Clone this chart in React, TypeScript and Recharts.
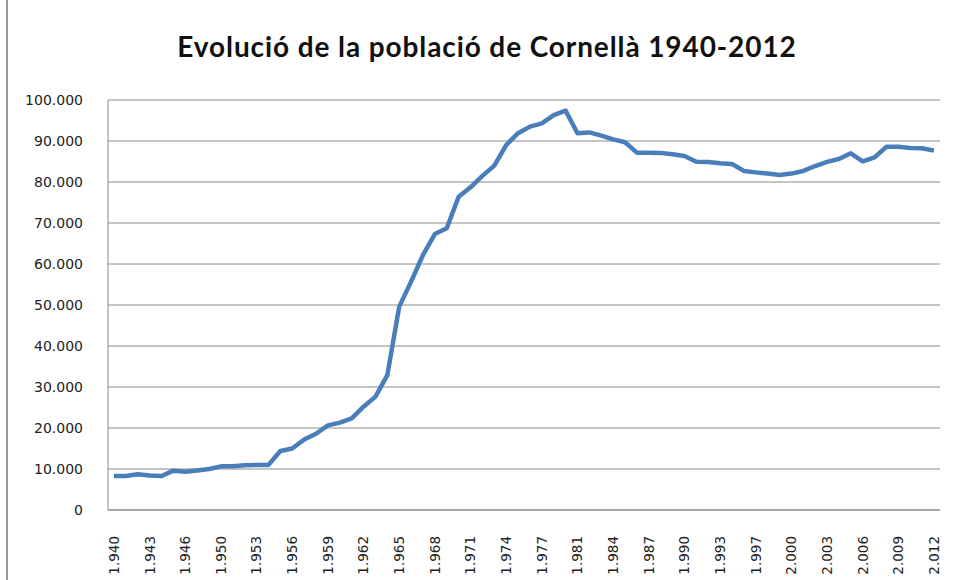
// Population of Cornellà 1940-2012 — line chart, Excel look.
import { LineChart, Line, XAxis, YAxis, CartesianGrid } from "recharts";

const years = [
  1940, 1941, 1942, 1943, 1944, 1945, 1946, 1947, 1949,
  1950, 1951, 1952, 1953, 1954, 1955, 1956, 1957, 1958, 1959,
  1960, 1961, 1962, 1963, 1964, 1965, 1966, 1967, 1968, 1969,
  1970, 1971, 1972, 1973, 1974, 1975, 1976, 1977, 1978, 1979,
  1981, 1982, 1983, 1984, 1985, 1986, 1987, 1988, 1989, 1990,
  1991, 1992, 1993, 1994, 1996, 1997, 1998, 1999, 2000, 2001,
  2002, 2003, 2004, 2005, 2006, 2007, 2008, 2009, 2010, 2011, 2012,
];

const population = [
  8300, 8300, 8700, 8400, 8300, 9600, 9350, 9650, 10000,
  10650, 10650, 10900, 11000, 11000, 14400, 15000, 17200, 18600, 20650,
  21300, 22350, 25200, 27650, 32900, 49600, 55700, 62200, 67300, 68700,
  76400, 78700, 81500, 84000, 89000, 91900, 93500, 94300, 96300, 97400,
  91900, 92100, 91300, 90400, 89700, 87150, 87150, 87100, 86750, 86350,
  84950, 84900, 84600, 84400, 82700, 82350, 82050, 81700, 82050, 82700,
  83900, 84900, 85600, 87000, 85050, 86000, 88600, 88600, 88300, 88250, 87650,
];

const yTicks = [0, 10000, 20000, 30000, 40000, 50000, 60000, 70000, 80000, 90000, 100000];

const title = "Evolució de la població de Cornellà 1940-2012";

const data = years.map((y, i) => ({ year: y, value: population[i] }));

// "1.940", "100.000" — Catalan thousands separator
const fmt = (n: number) => String(n).replace(/\B(?=(\d{3})+(?!\d))/g, ".");

const FONT = "'DejaVu Sans', sans-serif";

function YearTick({ x, y, payload }: any) {
  return (
    <text
      x={0}
      y={0}
      dy="0.36em"
      transform={`translate(${x},${y + 18}) rotate(-90)`}
      textAnchor="end"
      fontFamily={FONT}
      fontSize={13.5}
      fill="#222"
    >
      {fmt(payload.value)}
    </text>
  );
}

export default function App() {
  return (
    <div style={{ position: "absolute", left: 0, top: 0, width: 956, height: 580, background: "#fff" }}>
      <div style={{ position: "absolute", left: 6, top: 0, width: 2, height: 580, background: "#9a9a9a" }} />
      <div
        style={{
          position: "absolute",
          left: 0,
          top: 29,
          width: 974,
          textAlign: "center",
          fontFamily: "Lato, sans-serif",
          fontWeight: 700,
          fontSize: 28,
          letterSpacing: 0.9,
          color: "#111",
        }}
      >
        {title}
      </div>
      <LineChart
        width={956}
        height={580}
        data={data}
        margin={{ top: 100, right: 16, bottom: 0, left: 0 }}
        style={{ position: "absolute", left: 0, top: 0 }}
      >
        <CartesianGrid vertical={false} stroke="#8a8a8a" strokeWidth={1} />
        <XAxis
          dataKey="year"
          height={70}
          interval={2}
          padding={{ left: 6, right: 6 }}
          axisLine={{ stroke: "#8a8a8a" }}
          tickLine={false}
          tick={<YearTick />}
        />
        <YAxis
          width={108}
          domain={[0, 100000]}
          ticks={yTicks}
          tickFormatter={fmt}
          axisLine={{ stroke: "#8a8a8a" }}
          tickLine={false}
          tickSize={0}
          tickMargin={25}
          tick={{ fontFamily: FONT, fontSize: 14, fill: "#222" }}
        />
        <Line
          type="linear"
          dataKey="value"
          stroke="#4a7ebb"
          strokeWidth={4.5}
          strokeLinejoin="round"
          dot={false}
          isAnimationActive={false}
        />
      </LineChart>
    </div>
  );
}
